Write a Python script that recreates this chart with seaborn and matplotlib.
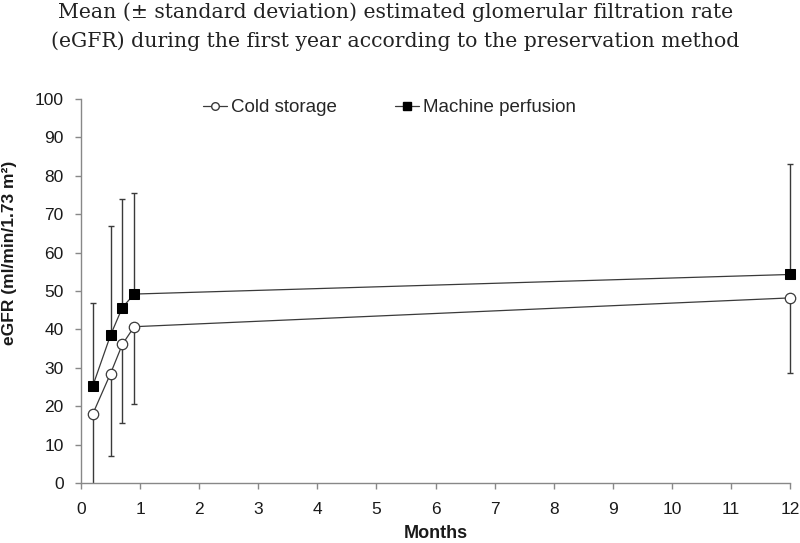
import matplotlib
matplotlib.use("Agg")
import matplotlib.pyplot as plt
from matplotlib.lines import Line2D
import numpy as np
import pandas as pd
import seaborn as sns

months = [0.2, 0.5, 0.7, 0.9, 12]
cold_mean = [18.0, 28.5, 36.1, 40.7, 48.2]
cold_sd = [18.0, 21.5, 20.6, 20.0, 19.6]
machine_mean = [25.3, 38.5, 45.7, 49.2, 54.3]
machine_sd = [21.5, 28.5, 28.3, 26.3, 28.7]

sns.set_style("white")
plt.rcParams['font.family'] = ['Liberation Sans', 'DejaVu Sans']

df = pd.DataFrame({'Months': months + months,
                   'eGFR': cold_mean + machine_mean,
                   'Method': ['Cold storage'] * 5 + ['Machine perfusion'] * 5})

fig = plt.figure(figsize=(8, 5.43), dpi=100)
ax = fig.add_axes([0.10125, 0.1105, 0.88625, 0.7072])

ecol = '#3a3a3a'
zeros = np.zeros(len(months))
# cold storage SD drawn downward (first one runs to the axis, no cap)
ax.errorbar(months[:1], cold_mean[:1], yerr=[cold_sd[:1], zeros[:1]], fmt='none',
            ecolor=ecol, elinewidth=1, capsize=0, zorder=1, clip_on=False)
ax.errorbar(months[1:], cold_mean[1:], yerr=[cold_sd[1:], zeros[1:]], fmt='none',
            ecolor=ecol, elinewidth=1, capsize=2.5, capthick=1, zorder=1, clip_on=False)
# machine perfusion SD drawn upward
ax.errorbar(months, machine_mean, yerr=[zeros, machine_sd], fmt='none',
            ecolor=ecol, elinewidth=1, capsize=2.5, capthick=1, zorder=1, clip_on=False)

cold = df[df['Method'] == 'Cold storage']
mach = df[df['Method'] == 'Machine perfusion']
sns.lineplot(data=cold, x='Months', y='eGFR', ax=ax, color=ecol, lw=0.9,
             marker='o', markersize=7.5, markerfacecolor='white',
             markeredgecolor=ecol, markeredgewidth=0.9, zorder=3, clip_on=False)
sns.lineplot(data=mach, x='Months', y='eGFR', ax=ax, color=ecol, lw=0.9,
             marker='s', markersize=7, markerfacecolor='black',
             markeredgecolor='black', zorder=3, clip_on=False)

ax.set_xlim(0, 12)
ax.set_ylim(0, 100)
ax.set_xticks(range(0, 13))
ax.set_yticks(range(0, 101, 10))
ax.tick_params(axis='both', direction='out', length=4.5, width=1, color='#888888',
               labelsize=12.5, labelcolor='#1a1a1a', bottom=True, left=True)
ax.tick_params(axis='x', pad=9)
ax.tick_params(axis='y', pad=8)
for s in ['top', 'right']:
    ax.spines[s].set_visible(False)
for s in ['left', 'bottom']:
    ax.spines[s].set_color('#888888')
    ax.spines[s].set_linewidth(1)

ax.set_xlabel('Months', fontsize=13, fontweight='bold', labelpad=6, color='#1a1a1a')
ax.set_ylabel('eGFR (ml/min/1.73 m²)', fontsize=12.5, fontweight='bold', color='#1a1a1a')
ax.yaxis.set_label_coords(-0.09, 0.6)

handles = [Line2D([], [], color=ecol, lw=0.9, marker='o', markersize=5.5,
                  markerfacecolor='white', markeredgecolor=ecol),
           Line2D([], [], color=ecol, lw=0.9, marker='s', markersize=5.5,
                  markerfacecolor='black', markeredgecolor='black')]
ax.legend(handles, ['Cold storage', 'Machine perfusion'], loc='center left',
          bbox_to_anchor=(0.172, 0.977), ncol=2, frameon=False, fontsize=13.5,
          handlelength=1.3, handletextpad=0.2, columnspacing=3.1,
          borderpad=0, borderaxespad=0)

fig.text(0.494, 0.995,
         'Mean (± standard deviation) estimated glomerular filtration rate\n'
         '(eGFR) during the first year according to the preservation method',
         ha='center', va='top', fontsize=14.7, family=['DejaVu Serif'],
         linespacing=1.55, color='#222222')

fig.savefig('out.png', dpi=100)
